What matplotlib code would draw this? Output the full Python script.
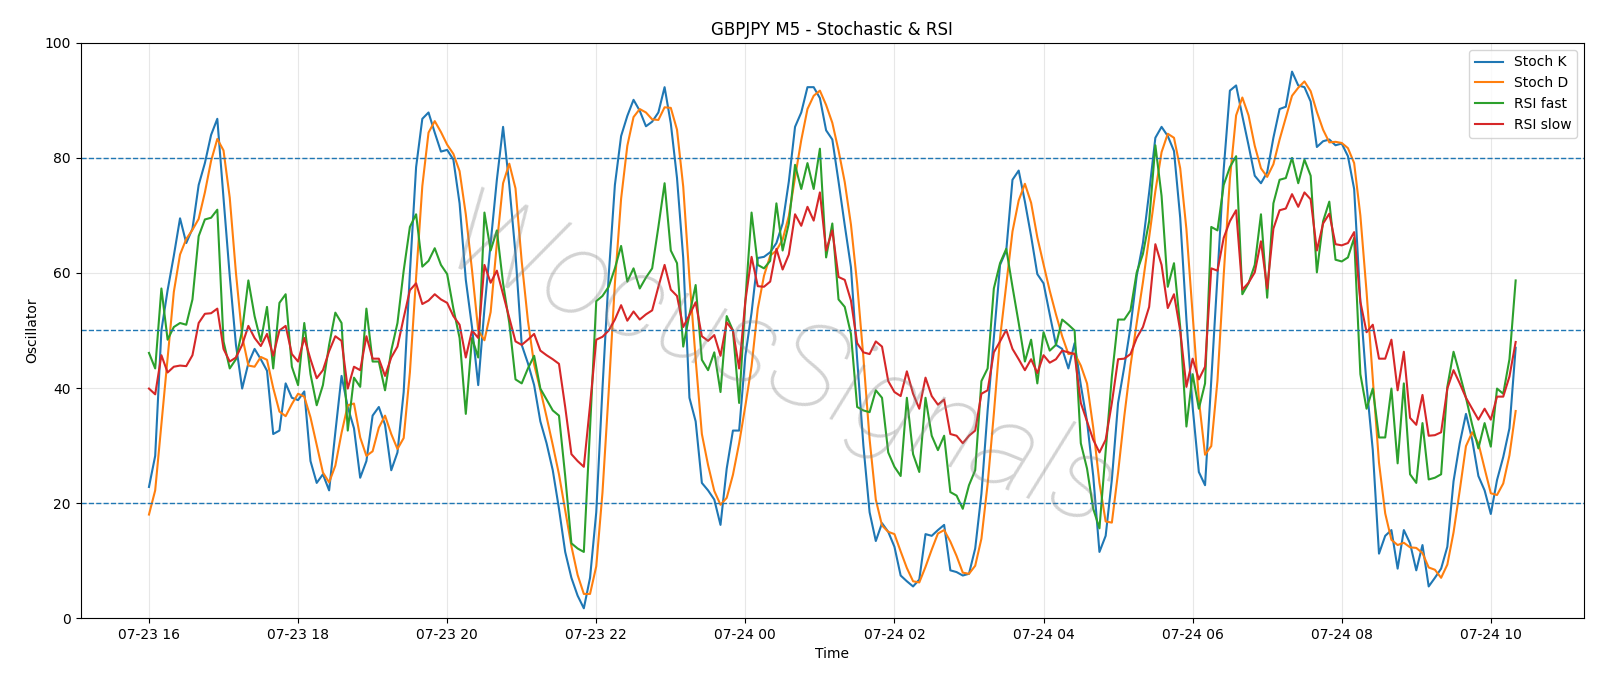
import matplotlib.pyplot as plt
import matplotlib.dates as mdates
import pandas as pd

# 5-minute bars, 07-23 16:00 -> 07-24 10:20
start_time = '2025-07-23 16:00'

stoch_k = [22.8, 28.2, 50, 57, 63, 69.5, 65.2, 67.7, 75.3, 79.1,
           84, 86.8, 73, 59.5, 47.5, 39.9, 44.3, 46.8, 45, 43,
           32, 32.6, 40.8, 38.3, 37.9, 39.4, 27.3, 23.5, 25, 22.2,
           32.3, 42.1, 36.7, 33, 24.4, 27.3, 35.2, 36.7, 33.6, 25.7,
           28.8, 39.3, 60, 78.4, 86.8, 87.9, 84.4, 81.1, 81.4, 79.7,
           72.1, 58.8, 50.6, 40.5, 53.8, 65.2, 76.2, 85.4, 75.3, 63.3,
           47.5, 44.3, 40.5, 34.2, 30.4, 25.7, 19, 11.5, 7, 3.9,
           1.7, 7, 18.4, 39.9, 59.5, 75.3, 83.8, 87.3, 90.1, 88.2,
           85.5, 86.3, 87.9, 92.3, 86, 76.5, 62.6, 38.3, 34.2, 23.5,
           22.2, 20.6, 16.2, 26, 32.6, 32.6, 45.6, 53.1, 62.6, 62.8,
           63.6, 65.2, 68.6, 75.9, 85.4, 87.9, 92.3, 92.3, 90.4, 84.8,
           83.2, 75.9, 68.3, 61, 45, 30, 18.4, 13.4, 16.5, 15,
           12.4, 7.4, 6.4, 5.5, 6.7, 14.6, 14.3, 15.3, 16.2, 8.3,
           8, 7.4, 7.7, 12.1, 21.6, 36.1, 48.7, 61.4, 63.9, 76.2,
           77.8, 72.4, 66.4, 59.8, 58.2, 52.8, 47.5, 46.8, 43.4, 47.8,
           40.5, 34.2, 24.7, 11.5, 14.3, 24.1, 37.4, 43.7, 50.6, 59.5,
           65.2, 74, 83.5, 85.4, 83.8, 81.2, 69.6, 51.9, 36.7, 25.4,
           23.1, 41.2, 59.5, 78, 91.7, 92.6, 87.3, 82.2, 76.9, 75.6,
           77.5, 83.5, 88.5, 88.9, 95, 92.6, 92.3, 89.8, 81.9, 82.9,
           83.2, 82.2, 82.5, 80.3, 74.6, 55, 40.5, 29.2, 11.2, 14.3,
           15.3, 8.6, 15.3, 13, 8.3, 12.7, 5.5, 7, 8.6, 12.4,
           23.8, 30.4, 35.5, 31, 24.7, 22.2, 18.1, 24, 28, 33,
           47]

stoch_d = [18, 22.2, 33.7, 45, 56.7, 63.2, 65.9, 67.5, 69.4, 74,
           79.5, 83.3, 81.3, 73.1, 60, 49, 43.9, 43.7, 45.4, 44.9,
           40, 35.9, 35.1, 37.2, 39, 38.5, 34.9, 30.1, 25.3, 23.6,
           26.5, 32.2, 37, 37.3, 31.4, 28.2, 29, 33.1, 35.2, 32,
           29.4, 31.3, 42.7, 59.2, 75.1, 84.4, 86.4, 84.5, 82.3, 80.7,
           77.7, 70.2, 60.5, 50, 48.3, 53.2, 65.1, 75.6, 79, 74.7,
           62, 51.7, 44.1, 39.7, 35, 30.1, 25, 18.7, 12.5, 7.5,
           4.2, 4.2, 9, 21.8, 39.3, 58.2, 72.9, 82.1, 87.1, 88.5,
           87.9, 86.7, 86.6, 88.8, 88.7, 84.9, 75, 59.1, 45, 32,
           26.6, 22.1, 19.7, 20.9, 24.9, 30.4, 36.9, 43.8, 53.8, 59.5,
           63, 63.9, 65.8, 69.9, 76.6, 83.1, 88.5, 90.8, 91.7, 89.2,
           86.1, 81.3, 75.8, 68.4, 58.1, 45.3, 31.1, 20.6, 16.1, 15,
           14.6, 11.6, 8.7, 6.4, 6.2, 8.9, 11.9, 14.7, 15.3, 13.3,
           10.8, 7.9, 7.7, 9.1, 13.8, 23.3, 35.5, 48.7, 58, 67.2,
           72.6, 75.5, 72.2, 66.2, 61.5, 56.9, 52.8, 49, 45.9, 46,
           43.9, 40.8, 33.1, 23.5, 16.8, 16.6, 25.3, 35.1, 43.9, 51.3,
           58.4, 66.2, 74.2, 81, 84.2, 83.5, 78.2, 67.6, 52.7, 38,
           28.4, 29.9, 41.3, 59.6, 76.4, 87.4, 90.5, 87.4, 82.1, 78.2,
           76.7, 78.9, 83.2, 87, 90.8, 92.2, 93.3, 91.6, 88, 84.9,
           82.7, 82.8, 82.6, 81.7, 79.1, 70, 56.7, 41.6, 27, 18.2,
           13.6, 12.7, 13.1, 12.3, 12.2, 11.3, 8.8, 8.4, 7, 9.3,
           14.9, 22.2, 29.9, 32.3, 30.4, 26, 21.7, 21.4, 23.4, 28.3,
           36]

rsi_fast = [46.1, 43.4, 57.3, 48.4, 50.6, 51.3, 51, 55.4, 66.4, 69.3,
            69.6, 71, 48.1, 43.4, 45, 50, 58.7, 52.5, 48.1, 54.1,
            43.4, 54.8, 56.3, 43.7, 40.5, 51.3, 42.4, 37, 40.5, 47.5,
            53.1, 51.3, 32.6, 41.8, 40.2, 53.8, 44.6, 44.6, 39.6, 46.5,
            51.3, 60.4, 68, 70.2, 61.1, 62.1, 64.3, 61.4, 59.8, 53.8,
            48.7, 35.5, 48.7, 45.3, 70.5, 63.9, 67.4, 58.2, 51.3, 41.5,
            40.8, 43.4, 45.6, 39.9, 38, 36.1, 35.2, 24.7, 13, 12.1,
            11.5, 33, 55.1, 56, 57.6, 60.8, 64.7, 58.5, 60.8, 57.3,
            59.2, 60.8, 68, 75.6, 63.9, 61.7, 47.2, 52.8, 57.9, 44.9,
            43.1, 46.2, 39.3, 52.5, 50, 37.4, 55.1, 70.5, 61.4, 60.8,
            62.1, 72.1, 63.9, 68.6, 78.8, 74.6, 79.1, 74.6, 81.6, 62.7,
            68.6, 55.4, 54.1, 49.4, 36.7, 36.1, 35.8, 39.6, 38.3, 28.8,
            26.3, 24.7, 38.3, 28.5, 25.4, 38.3, 31.7, 29.2, 31.7, 21.9,
            21.3, 19, 23.1, 25.7, 41.2, 43.4, 57.3, 61.7, 64.2, 57.6,
            51.3, 44.6, 48.4, 40.8, 49.7, 46.5, 47.5, 51.9, 51, 50,
            30.4, 26, 19, 15.6, 29, 42, 51.9, 51.9, 53.5, 60.1,
            63.3, 69, 82.2, 73.4, 57.6, 61.7, 50.6, 33.3, 42.4, 36.4,
            40.8, 68, 67.4, 75.3, 78.4, 80.3, 56.3, 58.2, 61.4, 70.2,
            55.7, 72.1, 76.2, 76.5, 80, 75.6, 79.7, 76.9, 60.1, 69,
            72.4, 62.3, 62, 62.7, 66.1, 42.4, 36.4, 39.9, 31.4, 31.4,
            39.9, 26.9, 40.8, 25, 23.5, 33.9, 24.1, 24.4, 25, 40.2,
            46.3, 42.4, 38.3, 33.6, 29.5, 33.9, 29.8, 39.9, 39, 45,
            58.7]

rsi_slow = [39.9, 38.9, 45.7, 42.7, 43.7, 43.9, 43.8, 45.7, 51.3, 52.9,
            53, 53.8, 46.8, 44.6, 45.3, 47.5, 50.8, 48.7, 47.3, 49.4,
            45.6, 50, 50.8, 45.9, 44.6, 48.7, 45, 41.7, 43.1, 46.4,
            49, 48.2, 39.9, 43.7, 43.1, 49, 45.1, 45.1, 42.1, 45.3,
            47.2, 52.2, 57, 58.2, 54.6, 55.2, 56.3, 55.4, 54.8, 52.5,
            51, 45.3, 50, 48.7, 61.4, 58.3, 60.4, 56.3, 52.2, 48.1,
            47.5, 48.4, 49.4, 46.5, 45.7, 45, 44.2, 36.7, 28.5, 27.3,
            26.3, 37, 48.4, 48.9, 50, 51.9, 54.4, 51.7, 53.3, 51.9,
            52.8, 53.5, 57.6, 61.4, 57.1, 56, 50.6, 52.7, 54.9, 49,
            48.2, 49.2, 45.6, 51.4, 50, 43.4, 55.1, 62.8, 57.7, 57.6,
            58.5, 64.2, 60.6, 63.2, 70.2, 68.2, 71.5, 69.1, 74, 63.9,
            67.4, 59.3, 58.8, 55.2, 47.8, 46.2, 45.9, 48.1, 47.2, 41.2,
            39.3, 38.6, 42.9, 39, 36.4, 41.8, 38.6, 37.1, 38, 32,
            31.7, 30.4, 31.7, 32.6, 39, 39.6, 46.2, 48.1, 50.1, 46.8,
            45, 43.1, 45, 42.6, 45.7, 44.4, 45, 46.5, 46.2, 45.9,
            37.4, 34.2, 31, 28.8, 31, 37.4, 45, 45.1, 45.9, 48.7,
            50.6, 54.1, 65, 61.4, 53.9, 56.3, 50, 40.2, 45.1, 41.5,
            43.7, 60.8, 60.4, 66.1, 69, 70.9, 57.1, 58.3, 60.1, 65.5,
            57.3, 67.7, 70.9, 71.2, 73.7, 71.5, 74, 72.8, 63.9, 68.6,
            70.3, 65, 64.8, 65.2, 67.1, 55, 49.7, 51, 45.1, 45.1,
            48.4, 39.6, 46.3, 34.8, 33.6, 38.8, 31.7, 31.8, 32.3, 39.9,
            43.1, 40.8, 38.3, 36.4, 34.5, 36.4, 34.5, 38.5, 38.5, 42,
            48]

levels = [80, 50, 20]

assert len(stoch_k) == len(stoch_d) == len(rsi_fast) == len(rsi_slow), \
    (len(stoch_k), len(stoch_d), len(rsi_fast), len(rsi_slow))

times = pd.date_range(start_time, periods=len(stoch_k), freq='5min')

fig, ax = plt.subplots(figsize=(16, 6.86), dpi=100)

ax.plot(times, stoch_k, label='Stoch K')
ax.plot(times, stoch_d, label='Stoch D')
ax.plot(times, rsi_fast, label='RSI fast')
ax.plot(times, rsi_slow, label='RSI slow')

for lv in levels:
    ax.axhline(lv, color='C0', linestyle='--', linewidth=1)

ax.set_ylim(0, 100)
ax.set_title('GBPJPY M5 - Stochastic & RSI')
ax.set_xlabel('Time')
ax.set_ylabel('Oscillator')
ax.grid(True, alpha=0.3)
ax.legend(loc='upper right')
ax.xaxis.set_major_locator(mdates.HourLocator(byhour=range(0, 24, 2)))
ax.xaxis.set_major_formatter(mdates.DateFormatter('%m-%d %H'))

# watermark
ax.text(0.465, 0.435, 'WocusSignals', transform=ax.transAxes,
        fontsize=86, color='gray', alpha=0.35, rotation=-22,
        ha='center', va='center', family='Roboto', fontweight='light',
        style='italic', zorder=5)

fig.subplots_adjust(left=0.0504, right=0.99, top=0.9375, bottom=0.099)
fig.savefig('out.png')
plt.close()
